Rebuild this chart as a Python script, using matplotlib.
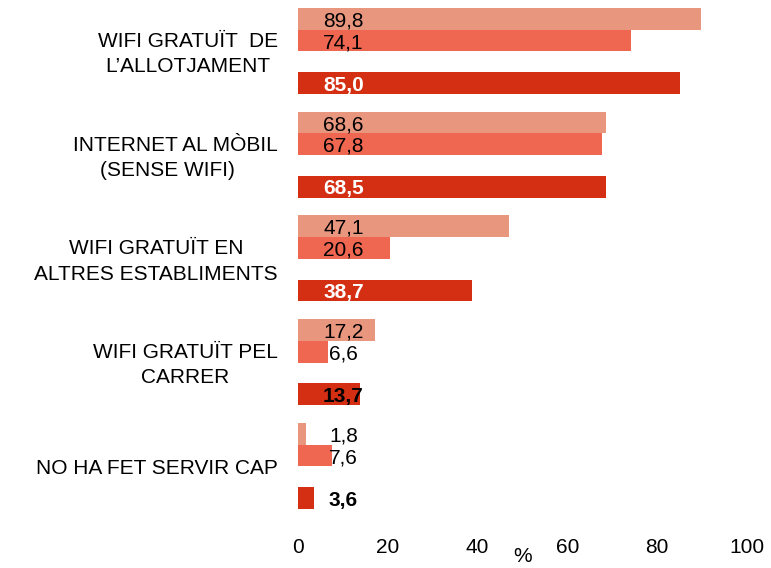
import numpy as np
import matplotlib
matplotlib.use("Agg")
from matplotlib import pyplot as plt

plt.rcParams['font.family'] = ['Liberation Sans', 'DejaVu Sans']

categories = ["WIFI GRATUÏT  DE\nL\u2019ALLOTJAMENT",
              "INTERNET AL MÒBIL\n(SENSE WIFI)   ",
              "WIFI GRATUÏT EN\nALTRES ESTABLIMENTS",
              "WIFI GRATUÏT PEL\nCARRER",
              "NO HA FET SERVIR CAP"]
serie_a = [89.8, 68.6, 47.1, 17.2, 1.8]
serie_b = [74.1, 67.8, 20.6, 6.6, 7.6]
serie_c = [85.0, 68.5, 38.7, 13.7, 3.6]
xticks = [0, 20, 40, 60, 80, 100]

col_a = "#E9967E"
col_b = "#EF6651"
col_c = "#D42E13"

fig = plt.figure(figsize=(7.71, 5.68), dpi=100)
ax = fig.add_axes([298/771, 48/568, 449/771, 520/568])

pitch = 4.78
base = np.arange(len(categories)) * pitch
ya = base
yb = base + 1.0
yc = base + 2.96

ax.barh(ya, serie_a, height=1.0, color=col_a)
ax.barh(yb, serie_b, height=1.0, color=col_b)
ax.barh(yc, serie_c, height=1.0, color=col_c)

fs = 15
lx = 10.1
for i in range(len(categories)):
    ax.text(lx, ya[i] + 0.1, f"{serie_a[i]:.1f}".replace(".", ","), ha="center", va="center",
            fontsize=fs, color="black")
    ax.text(lx, yb[i] + 0.1, f"{serie_b[i]:.1f}".replace(".", ","), ha="center", va="center",
            fontsize=fs, color="black")
    c = "white" if serie_c[i] > 20 else "black"
    ax.text(lx, yc[i] + 0.1, f"{serie_c[i]:.1f}".replace(".", ","), ha="center", va="center",
            fontsize=fs, color=c, fontweight="bold")
    # category name, right-aligned block with centered lines
    ax.text(-20/449, (ya[i] + yc[i]) / 2 + 0.14, categories[i], transform=ax.get_yaxis_transform(),
            ha="right", va="center", multialignment="center", fontsize=fs, linespacing=1.42)

ax.set_xlim(0, 100)
ax.set_ylim(-0.5 + 512/21.7, -0.5 - 8/21.7)
ax.set_xticks(xticks)
ax.set_xticklabels([str(t) for t in xticks], fontsize=fs)
ax.set_yticks([])
ax.tick_params(axis="x", length=0, pad=13)
for s in ax.spines.values():
    s.set_visible(False)

fig.text(523/771, 1 - 557/568, "%", ha="center", va="center", fontsize=fs)

fig.savefig("out.png", dpi=100)
